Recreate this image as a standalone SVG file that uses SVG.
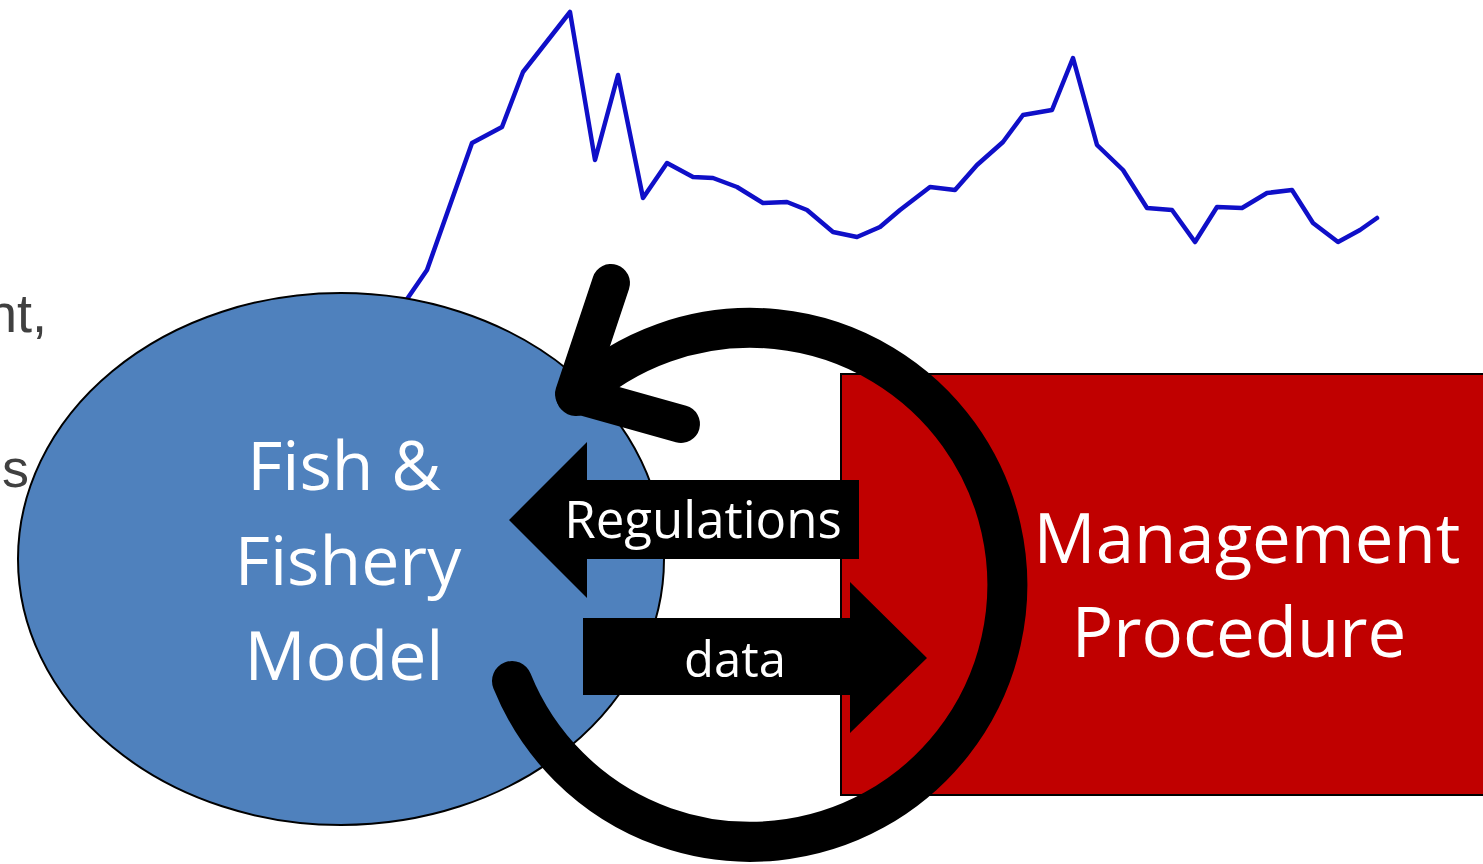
<svg xmlns="http://www.w3.org/2000/svg" width="1483" height="864" viewBox="0 0 1483 864">
  <style>
    .lbl { font-family: "Open Sans", "Liberation Sans", sans-serif; fill: #ffffff; text-anchor: middle; }
    .side { font-family: "Liberation Sans", Arial, sans-serif; fill: #404040; font-size: 54px; text-anchor: end; }
    .loop { fill: none; stroke: #000000; stroke-width: 40; stroke-linecap: round; stroke-linejoin: round; }
    .chev { fill: none; stroke: #000000; stroke-width: 38; stroke-linecap: round; stroke-linejoin: round; }
  </style>
  <rect x="0" y="0" width="1483" height="864" fill="#ffffff"/>

  <text class="side" x="47" y="332">nt,</text>
  <text class="side" x="29" y="487" font-size="58">s</text>

  <g id="chart">
    <polyline fill="none" stroke="#0f0fc8" stroke-width="4.5" stroke-linejoin="round" stroke-linecap="round"
      points="405,302 427,270 472,143 502,127 523,72 570,12 595,160 618,75 643,198 667,163 693,177 713,178 737,187 763,203 787,202 807,210 833,232 857,237 880,227 900,210 930,187 955,190 977,165 1003,142 1023,115 1052,110 1073,58 1097,145 1123,170 1147,208 1172,210 1195,242 1217,207 1242,208 1267,193 1292,190 1313,223 1338,242 1360,230 1377,218"/>
  </g>

  <g id="fish-model">
    <ellipse cx="341" cy="559" rx="323" ry="266" fill="#4f81bd" stroke="#000000" stroke-width="2"/>
    <text class="lbl" font-size="68" x="344" y="490">Fish &amp;</text>
    <text class="lbl" font-size="68" x="348" y="585">Fishery</text>
    <text class="lbl" font-size="68" x="344" y="680">Model</text>
  </g>

  <g id="management-procedure">
    <rect x="841" y="374" width="660" height="421" fill="#c00000" stroke="#000000" stroke-width="2"/>
    <text class="lbl" font-size="69" x="1247" y="563">Management</text>
    <text class="lbl" font-size="69" x="1239" y="657">Procedure</text>
  </g>

  <g id="connectors">
    <g id="regulations-arrow">
      <polygon points="859,480 587,480 587,442 509,520 587,598 587,559 859,559" fill="#000000"/>
      <text class="lbl" font-size="51" x="703" y="538">Regulations</text>
    </g>
    <g id="data-arrow">
      <polygon points="583,618 850,618 850,582 927,658 850,733 850,695 583,695" fill="#000000"/>
      <text class="lbl" font-size="49" x="735" y="677">data</text>
    </g>
    <g id="cycle-arrow">
      <path class="loop" d="M512,681 A257,257 0 1 0 576,396"/>
      <path class="chev" d="M611,283 L574,394 L681,424"/>
    </g>
  </g>
</svg>
